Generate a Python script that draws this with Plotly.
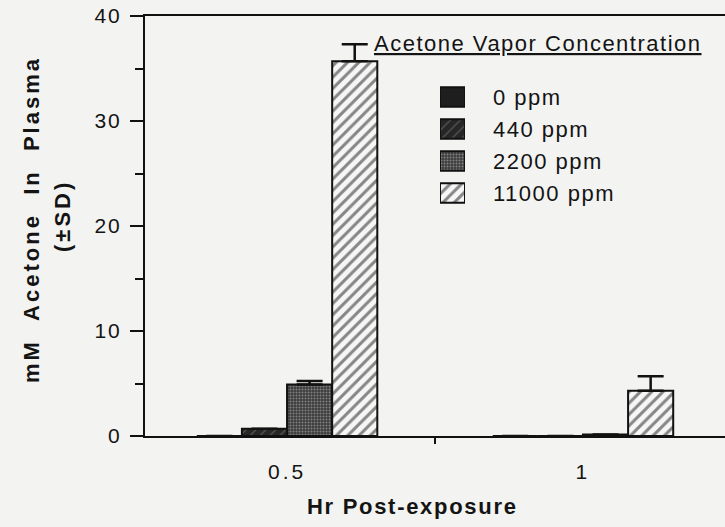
import plotly.graph_objects as go

# Plasma acetone after vapour exposure, grouped by sampling time
hours = ["0.5", "1"]
concentrations = ["0 ppm", "440 ppm", "2200 ppm", "11000 ppm"]
mean_mM = {
    "0 ppm": [0.0, 0.0],
    "440 ppm": [0.7, 0.0],
    "2200 ppm": [4.9, 0.15],
    "11000 ppm": [35.7, 4.3],
}
sd_mM = {
    "0 ppm": [0.0, 0.0],
    "440 ppm": [0.0, 0.0],
    "2200 ppm": [0.35, 0.0],
    "11000 ppm": [1.6, 1.4],
}
y_ticks = [0, 10, 20, 30, 40]

patterns = {
    "0 ppm": dict(shape="", bgcolor="#1e1e1e"),
    "440 ppm": dict(shape="/", bgcolor="#262626", fgcolor="#9a9a9a", size=7, solidity=0.15),
    "2200 ppm": dict(shape=".", bgcolor="#3c3c3c", fgcolor="#c8c8c8", size=3, solidity=0.35),
    "11000 ppm": dict(shape="/", bgcolor="#f6f6f6", fgcolor="#151515", size=8, solidity=0.38),
}

FONT = "Liberation Sans, Arial, Helvetica, sans-serif"
BG = "#f3f3f1"
INK = "#141414"


def spaced(text, px):
    return f'<span style="letter-spacing:{px}px">{text}</span>'


# plot area in pixels: x 145..725, y 16..436
def px_x(x):
    return (x - 145) / 580


def px_y(y):
    return (436 - y) / 420


fig = go.Figure()
for c in concentrations:
    fig.add_trace(go.Bar(
        x=hours,
        y=mean_mM[c],
        name=c,
        showlegend=False,
        marker=dict(
            color=patterns[c]["bgcolor"],
            line=dict(color="#111", width=2),
            pattern=patterns[c],
        ),
        error_y=dict(
            type="data", symmetric=False,
            array=sd_mM[c], arrayminus=[0, 0],
            color="#111", thickness=2.5, width=13,
        ),
    ))

# key: one patterned swatch per concentration on a small inset axis
for c in concentrations:
    fig.add_trace(go.Bar(
        x=[1], y=[c], orientation="h", xaxis="x2", yaxis="y2",
        showlegend=False, hoverinfo="skip",
        marker=dict(
            color=patterns[c]["bgcolor"],
            line=dict(color="#111", width=2),
            pattern=patterns[c],
        ),
    ))

fig.update_layout(
    width=725, height=527,
    margin=dict(l=145, r=0, t=16, b=91),
    paper_bgcolor=BG, plot_bgcolor=BG,
    barmode="group", bargap=0.39, bargroupgap=0,
    font=dict(family=FONT, size=21, color=INK),
    showlegend=False,
    xaxis=dict(
        type="category", range=[-0.48, 1.48],
        tickvals=hours, ticktext=[spaced(h, 3) for h in hours],
        showline=True, linecolor="#111", linewidth=2, mirror=True,
        ticks="outside", tickson="boundaries", ticklen=6, tickwidth=2, tickcolor="#111",
        tickfont=dict(size=21), ticklabelstandoff=16,
        showgrid=False, zeroline=False,
    ),
    yaxis=dict(
        range=[0, 40], tickvals=y_ticks, ticktext=[spaced(v, 2) for v in y_ticks],
        showline=True, linecolor="#111", linewidth=2,
        ticks="outside", ticklen=13, tickwidth=2, tickcolor="#111",
        minor=dict(dtick=5, ticks="outside", ticklen=8, tickwidth=2, tickcolor="#111", showgrid=False),
        tickfont=dict(size=21), ticklabelstandoff=4,
        showgrid=False, zeroline=False,
    ),
    xaxis2=dict(
        domain=[px_x(440), px_x(465)], anchor="y2", range=[0, 1],
        visible=False, fixedrange=True,
    ),
    yaxis2=dict(
        domain=[px_y(209), px_y(81)], anchor="x2", side="right",
        type="category", categoryorder="array", categoryarray=concentrations[::-1],
        tickvals=concentrations, ticktext=[spaced(c, 1.5) for c in concentrations],
        showline=False, showgrid=False, zeroline=False, ticks="",
        tickfont=dict(size=22, color=INK), ticklabelstandoff=27,
        fixedrange=True,
    ),
    annotations=[
        dict(text=spaced("<u>Acetone Vapor Concentration</u>", 1.5), xref="paper", yref="paper",
             x=px_x(372), y=px_y(43), xanchor="left", yanchor="middle",
             showarrow=False, font=dict(size=22, color=INK)),
        dict(text=spaced("<b>Hr Post-exposure</b>", 1.7), xref="paper", yref="paper",
             x=px_x(412), y=px_y(506), xanchor="center", yanchor="middle",
             showarrow=False, font=dict(size=22, color=INK)),
        dict(text=spaced("<b>mM\u00a0\u00a0Acetone\u00a0\u00a0In\u00a0\u00a0Plasma</b>", 3),
             xref="paper", yref="paper",
             x=px_x(31), y=px_y(220), xanchor="center", yanchor="middle",
             textangle=-90, showarrow=False, font=dict(size=22, color=INK)),
        dict(text=spaced("<b>(±SD)</b>", 3), xref="paper", yref="paper",
             x=px_x(62), y=px_y(216), xanchor="center", yanchor="middle",
             textangle=-90, showarrow=False, font=dict(size=22, color=INK)),
    ],
)

fig.write_html("out.html")
